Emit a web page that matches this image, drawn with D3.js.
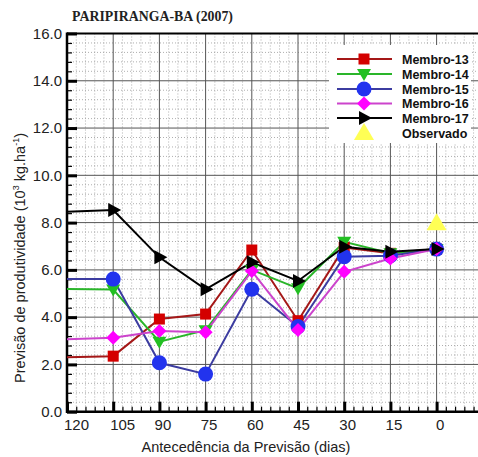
<!DOCTYPE html>
<html><head><meta charset="utf-8">
<script src="https://cdn.jsdelivr.net/npm/d3@7"></script>
<style>body{margin:0;background:#fff}svg{display:block}</style>
</head><body>
<svg id="c" width="478" height="457"></svg>
<script>
const days = [120,105,90,75,60,45,30,15,0];
const membro13 = [2.30,2.35,3.92,4.13,6.84,3.85,6.95,6.70,6.88];
const membro14 = [5.19,5.17,2.96,3.45,6.00,5.22,7.19,6.70,6.88];
const membro15 = [5.61,5.61,2.07,1.59,5.18,3.60,6.56,6.60,6.88];
const membro16 = [3.07,3.13,3.41,3.36,5.95,3.46,5.92,6.48,6.88];
const membro17 = [8.46,8.53,6.53,5.18,6.32,5.53,6.98,6.77,6.88];
const obsDays = [0];
const observado = [7.97];
const xTicks = [120,105,90,75,60,45,30,15,0];
const yTicks = [0,2,4,6,8,10,12,14,16];
const seriesNames = ["Membro-13","Membro-14","Membro-15","Membro-16","Membro-17"];

const W=478,H=457, L=67, T=33.5, B=411.7;
const svg=d3.select("#c");
const x=d3.scaleLinear().domain([120,-15]).range([L, L+9*46.2]);
const y=d3.scaleLinear().domain([0,16]).range([B,T]);
const R=W;

svg.append("defs").append("clipPath").attr("id","pc").append("rect")
  .attr("x",L).attr("y",T).attr("width",R-L).attr("height",B-T);

const grid=svg.append("g").attr("clip-path","url(#pc)");
const minorX=d3.range(-15,121,3).filter(v=>v%15!==0);
const minorY=d3.range(0,16.01,0.4).filter(v=>Math.abs(v/2-Math.round(v/2))>0.01);
grid.selectAll(".mx").data(minorX).join("line")
  .attr("x1",d=>x(d)).attr("x2",d=>x(d)).attr("y1",T).attr("y2",B)
  .attr("stroke","#9a9a9a").attr("stroke-width",0.8).attr("stroke-dasharray","1,2");
grid.selectAll(".my").data(minorY).join("line")
  .attr("x1",L).attr("x2",R).attr("y1",d=>y(d)).attr("y2",d=>y(d))
  .attr("stroke","#9a9a9a").attr("stroke-width",0.8).attr("stroke-dasharray","1,2");
grid.selectAll(".Mx").data(xTicks.concat([-15])).join("line")
  .attr("x1",d=>x(d)).attr("x2",d=>x(d)).attr("y1",T).attr("y2",B)
  .attr("stroke","#555").attr("stroke-width",1);
grid.selectAll(".My").data(yTicks).join("line")
  .attr("x1",L).attr("x2",R).attr("y1",d=>y(d)).attr("y2",d=>y(d))
  .attr("stroke","#555").attr("stroke-width",1);

const yAxis=d3.axisLeft(y).tickValues(yTicks).tickFormat(d3.format(".1f")).tickSize(-10).tickPadding(16);
const gy=svg.append("g").attr("transform",`translate(${L},0)`).call(yAxis);
gy.select(".domain").remove();
gy.selectAll(".tick line").attr("stroke","#000").attr("stroke-width",3);
gy.selectAll(".tick text").attr("font-family","Liberation Sans, Arial, sans-serif").attr("font-size",15).attr("fill","#222").attr("x",-5);
const gym=svg.append("g").attr("transform",`translate(${L},0)`)
  .call(d3.axisLeft(y).tickValues(minorY).tickSize(-5).tickFormat(""));
gym.select(".domain").remove();
gym.selectAll(".tick line").attr("stroke","#000").attr("stroke-width",1.2);

const xAxis=d3.axisBottom(x).tickValues(xTicks).tickSize(-10).tickPadding(8).tickFormat(d=>d);
const gx=svg.append("g").attr("transform",`translate(0,${B})`).call(xAxis);
gx.select(".domain").remove();
gx.selectAll(".tick line").attr("stroke","#000").attr("stroke-width",3);
gx.selectAll(".tick text").attr("font-family","Liberation Sans, Arial, sans-serif").attr("font-size",15).attr("fill","#222")
  .attr("dx",d=>d>=100?9:3);
const gxm=svg.append("g").attr("transform",`translate(0,${B})`)
  .call(d3.axisBottom(x).tickValues(minorX.filter(v=>x(v)<W)).tickSize(-5).tickFormat(""));
gxm.select(".domain").remove();
gxm.selectAll(".tick line").attr("stroke","#000").attr("stroke-width",1.2);

svg.append("line").attr("x1",L).attr("x2",W).attr("y1",T).attr("y2",T).attr("stroke","#000").attr("stroke-width",2);
svg.append("line").attr("x1",L).attr("x2",W).attr("y1",B).attr("y2",B).attr("stroke","#000").attr("stroke-width",2.5);
svg.append("line").attr("x1",L).attr("x2",L).attr("y1",T-1).attr("y2",B+1.2).attr("stroke","#000").attr("stroke-width",2.5);

const styles=[
 {data:membro13,line:"#a51818",fill:"#d40000",shape:"square"},
 {data:membro14,line:"#2ab52a",fill:"#22c022",shape:"tridown"},
 {data:membro15,line:"#3c3ca0",fill:"#2233ee",shape:"circle"},
 {data:membro16,line:"#cc44cc",fill:"#ff00ff",shape:"diamond"},
 {data:membro17,line:"#000",fill:"#000",shape:"triright"}
];
function marker(g,shape,fill,cx,cy){
  if(shape==="square") g.append("rect").attr("x",cx-5.5).attr("y",cy-5.5).attr("width",11).attr("height",11).attr("fill",fill);
  else if(shape==="circle") g.append("circle").attr("cx",cx).attr("cy",cy).attr("r",7.5).attr("fill",fill);
  else if(shape==="diamond") g.append("path").attr("d",`M${cx},${cy-7}L${cx+7},${cy}L${cx},${cy+7}L${cx-7},${cy}Z`).attr("fill",fill);
  else if(shape==="tridown") g.append("path").attr("d",`M${cx-7},${cy-5}L${cx+7},${cy-5}L${cx},${cy+7}Z`).attr("fill",fill);
  else if(shape==="triright") g.append("path").attr("d",`M${cx-5},${cy-7}L${cx+8},${cy}L${cx-5},${cy+7}Z`).attr("fill",fill);
  else if(shape==="triup") g.append("path").attr("d",`M${cx},${cy-10}L${cx+10},${cy+7}L${cx-10},${cy+7}Z`).attr("fill",fill);
}
const plot=svg.append("g").attr("clip-path","url(#pc)");
const line=d3.line().x((d,i)=>x(days[i])).y(d=>y(d));
styles.forEach(s=>{
  plot.append("path").attr("d",line(s.data)).attr("fill","none").attr("stroke",s.line).attr("stroke-width",2);
});
styles.forEach(s=>{
  s.data.forEach((v,i)=>{ if(days[i]<120) marker(plot,s.shape,s.fill,x(days[i]),y(v)); });
});
observado.forEach((v,i)=>marker(plot,"triup","#ffff55",x(obsDays[i]),y(v)));

const lg=svg.append("g");
lg.append("rect").attr("x",329).attr("y",45).attr("width",142).attr("height",98).attr("fill","#fff");
const rowY=[59,74,89,103.5,118,133];
const lf="Liberation Sans, Arial, sans-serif";
styles.forEach((s,i)=>{
  lg.append("line").attr("x1",337).attr("x2",392).attr("y1",rowY[i]).attr("y2",rowY[i]).attr("stroke",s.line).attr("stroke-width",2);
  marker(lg,s.shape,s.fill,364,rowY[i]);
  lg.append("text").attr("x",402).attr("y",rowY[i]).attr("dy","0.36em").text(seriesNames[i])
    .attr("font-family",lf).attr("font-weight","bold").attr("font-size",12.5).attr("fill","#111");
});
marker(lg,"triup","#ffff55",364,rowY[5]);
lg.append("text").attr("x",402).attr("y",rowY[5]).attr("dy","0.36em").text("Observado")
  .attr("font-family",lf).attr("font-weight","bold").attr("font-size",12.5).attr("fill","#111");

svg.append("text").attr("x",72).attr("y",21).attr("textLength",161).attr("lengthAdjust","spacingAndGlyphs").text("PARIPIRANGA-BA (2007)")
  .attr("font-family","Liberation Serif, Times New Roman, serif").attr("font-weight","bold").attr("font-size",14).attr("fill","#222");
svg.append("text").attr("x",246).attr("y",452).attr("text-anchor","middle").text("Antecedência da Previsão (dias)")
  .attr("font-family",lf).attr("font-size",14.5).attr("fill","#222");
const yl=svg.append("text").attr("transform","translate(25,258) rotate(-90)").attr("text-anchor","middle")
  .attr("font-family",lf).attr("font-size",14.5).attr("fill","#222");
yl.append("tspan").text("Previsão de produtividade (10");
yl.append("tspan").text("3").attr("font-size",9).attr("dy",-6);
yl.append("tspan").text(" kg.ha").attr("font-size",14.5).attr("dy",6);
yl.append("tspan").text("-1").attr("font-size",9).attr("dy",-6);
yl.append("tspan").text(")").attr("font-size",14.5).attr("dy",6);
</script>
</body></html>
